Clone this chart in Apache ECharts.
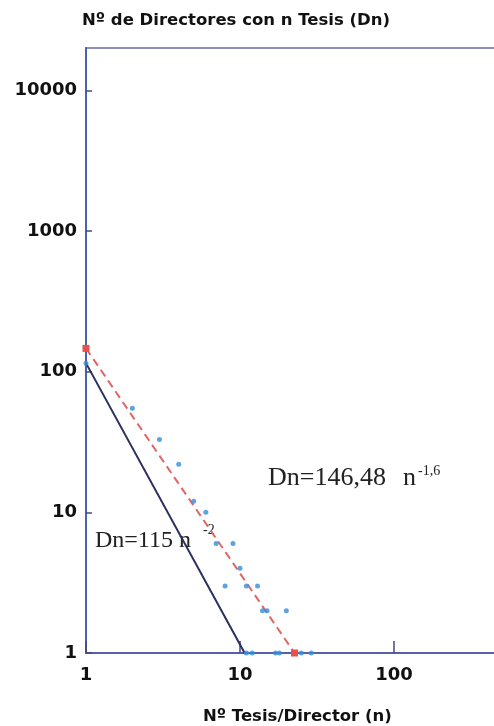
<!DOCTYPE html>
<html><head><meta charset="utf-8">
<script src="https://cdn.jsdelivr.net/npm/echarts@6/dist/echarts.min.js"></script>
<style>html,body{margin:0;padding:0;background:#fff}#c{width:494px;height:726px}</style>
</head><body><div id="c"></div>
<script>
// Data
const observedN  = [1,   2,  3,  4,  5,  6, 7, 9, 10, 8, 11, 13, 14, 15, 20, 11, 12, 17, 18, 25, 29];
const observedDn = [115, 55, 33, 22, 12, 10, 6, 6, 4,  3, 3,  3,  2,  2,  2,  1,  1,  1,  1,  1,  1];
const lotkaN  = [1, 10.72];      // Dn = 115 n^-2
const lotkaDn = [115, 1];
const fitN  = [1, 22.6];         // Dn = 146,48 n^-1,6
const fitDn = [146.48, 1];
const xTickLabels = ['1', '10', '100', '1000'];
const yTickLabels = ['1', '10', '100', '1000', '10000'];

const zip = (a, b) => a.map((v, i) => [v, b[i]]);
const axisColor = '#5560a6';
const labelFont = {fontFamily: 'DejaVu Sans', fontWeight: 'bold', fontSize: 18, color: '#111'};
const titleFont = {fontFamily: 'DejaVu Sans', fontWeight: 'bold', fontSize: 16.5, color: '#111'};

const chart = echarts.init(document.getElementById('c'));
chart.setOption({
  backgroundColor: '#ffffff',
  animation: false,
  title: [
    {text: 'Nº de Directores con n Tesis (Dn)', left: 82, top: 12, padding: 0, textStyle: titleFont},
    {text: 'Nº Tesis/Director (n)', left: 203, top: 708, padding: 0, textStyle: titleFont}
  ],
  grid: {left: 86, top: 48, width: 462, bottom: 73, outerBoundsMode: 'none', containLabel: false,
         show: true, borderColor: '#8a90b8', borderWidth: 2},
  xAxis: {
    type: 'log', logBase: 10, min: 1, max: 1000,
    axisLine: {lineStyle: {color: axisColor, width: 2}},
    axisTick: {inside: true, length: 12, lineStyle: {color: '#444a80', width: 1.5}},
    minorTick: {show: false},
    splitLine: {show: false},
    axisLabel: Object.assign({margin: 13,
      formatter: v => { const i = Math.round(Math.log10(v)); return xTickLabels[i] || ''; }}, labelFont)
  },
  yAxis: {
    type: 'log', logBase: 10, min: 1, max: 20000,
    axisLine: {lineStyle: {color: '#4a62ac', width: 2}},
    axisTick: {inside: true, length: 6, lineStyle: {color: '#444a80', width: 1.5}},
    splitLine: {show: false},
    axisLabel: Object.assign({margin: 9, showMaxLabel: false,
      formatter: v => { const l = Math.log10(v); const i = Math.round(l);
        return Math.abs(l - i) < 1e-6 ? (yTickLabels[i] || '') : ''; }}, labelFont)
  },
  series: [
    {type: 'line', data: zip(lotkaN, lotkaDn), showSymbol: false, symbol: 'none',
     lineStyle: {color: '#2b2f60', width: 2}, z: 2},
    {type: 'line', data: zip(fitN, fitDn), symbol: 'rect', symbolSize: 7,
     itemStyle: {color: '#e8504a'},
     lineStyle: {color: '#e06666', width: 2, type: [8, 5]}, z: 3},
    {type: 'scatter', data: zip(observedN, observedDn), symbol: 'circle', symbolSize: 5,
     itemStyle: {color: '#2f8ee0'}, z: 4}
  ],
  graphic: [
    {type: 'text', left: 268, top: 465,
     style: {text: 'Dn=146,48', font: '26px "Liberation Serif"', fill: '#222'}},
    {type: 'text', left: 403, top: 465,
     style: {text: 'n', font: '26px "Liberation Serif"', fill: '#222'}},
    {type: 'text', left: 418, top: 464,
     style: {text: '-1,6', font: '14px "Liberation Serif"', fill: '#222'}},
    {type: 'text', left: 95, top: 529,
     style: {text: 'Dn=115 n', font: '24px "Liberation Serif"', fill: '#222'}},
    {type: 'text', left: 203, top: 523,
     style: {text: '-2', font: '14px "Liberation Serif"', fill: '#222'}}
  ]
});
</script></body></html>
